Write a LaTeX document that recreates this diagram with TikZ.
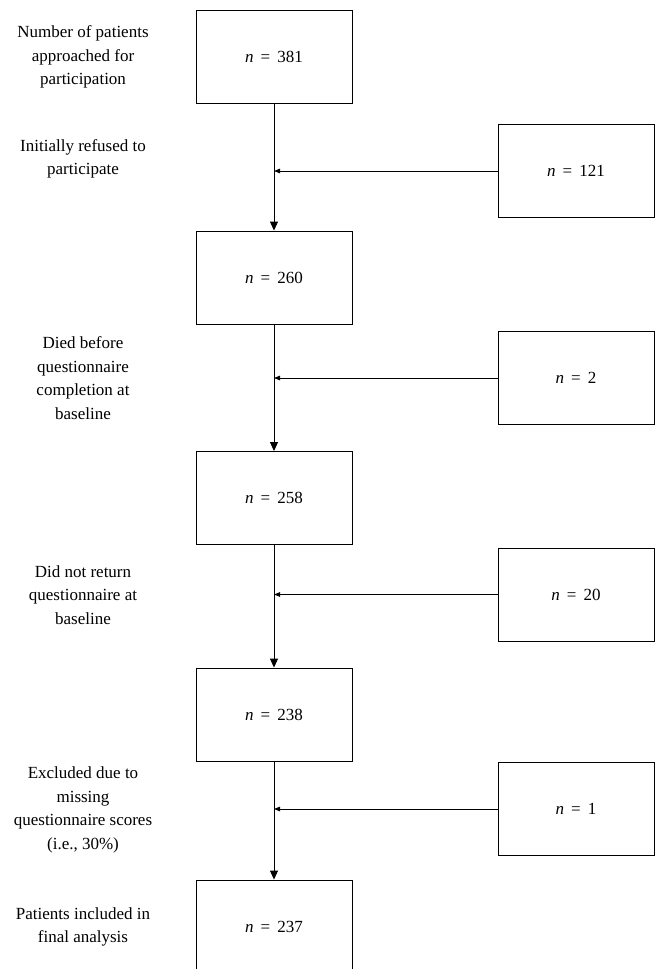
\documentclass[tikz,border=0pt]{standalone}
\usepackage{fontspec}
\setmainfont{Liberation Serif}
\usetikzlibrary{arrows.meta, calc}

\begin{document}
\begin{tikzpicture}[x=1pt, y=-1pt,
        countbox/.style={draw, line width=0.9pt, minimum width=156pt, minimum height=93pt, inner sep=0pt, font=\fontsize{17}{23.5}\selectfont},
        steplabel/.style={align=center, font=\fontsize{17}{23.5}\selectfont},
        flow/.style={line width=0.9pt, -{Triangle[width=8pt,length=9pt]}},
        drop/.style={line width=0.9pt, -{Triangle[width=4.5pt,length=6pt]}}]
    \useasboundingbox (0,0) rectangle (656,969);
    \clip (0,0) rectangle (656,969);
    % main boxes down the middle
    \node[countbox] (m1) at (274,56.5) {\textit{n}\, = \,381};
    \node[countbox] (m2) at (274,277.5) {\textit{n}\, = \,260};
    \node[countbox] (m3) at (274,498) {\textit{n}\, = \,258};
    \node[countbox] (m4) at (274,714.5) {\textit{n}\, = \,238};
    \node[countbox] (m5) at (274,926.5) {\textit{n}\, = \,237};
    % boxes for those who dropped out
    \node[countbox] (s1) at (576,171) {\textit{n}\, = \,121};
    \node[countbox] (s2) at (576,378) {\textit{n}\, = \,2};
    \node[countbox] (s3) at (576,594.5) {\textit{n}\, = \,20};
    \node[countbox] (s4) at (576,809) {\textit{n}\, = \,1};
    % labels on the left
    \node[steplabel] (l1) at (83,57) {Number of patients\\approached for\\participation};
    \node[steplabel] (l2) at (83,159) {Initially refused to\\participate};
    \node[steplabel] (l3) at (83,378) {Died before\\questionnaire\\completion at\\baseline};
    \node[steplabel] (l4) at (83,595) {Did not return\\questionnaire at\\baseline};
    \node[steplabel] (l5) at (83,810) {Excluded due to\\missing\\questionnaire scores\\(i.e., 30\%)};
    \node[steplabel] (l6) at (83,927) {Patients included in\\final analysis};
    % arrows
    \foreach \a/\b in {m1/m2, m2/m3, m3/m4, m4/m5} {
        \draw[flow] (\a.south) -- (\b.north);
    };
    \foreach \s/\m in {s1/m1, s2/m2, s3/m3, s4/m4} {
        \draw[drop] (\s.west) -- (\s.west -| \m.south);
    };
\end{tikzpicture}
\end{document}
